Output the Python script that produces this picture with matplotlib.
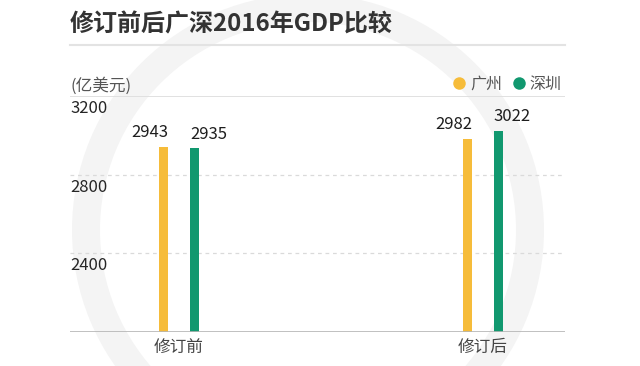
import matplotlib.pyplot as plt
from matplotlib.patches import Wedge
from matplotlib.lines import Line2D
import matplotlib.transforms as mtransforms

plt.rcParams['font.family'] = ['Noto Sans CJK SC', 'DejaVu Sans']

categories = ['修订前', '修订后']
cities = ['广州', '深圳']
guangzhou = [2943, 2982]
shenzhen = [2935, 3022]
yticks = [2400, 2800, 3200]

colors = ['#F6BC3A', '#11986F']

fig = plt.figure(figsize=(6.4, 3.66), dpi=100)
fig.patch.set_facecolor('white')

# faint watermark ring in the background
ring = Wedge((308, 366 - 230), 236, 0, 360, width=28, transform=None,
             facecolor='#f4f4f4', edgecolor='none', zorder=-10)
fig.patches.append(ring)

ax = fig.add_axes([70 / 640, 1 - 332 / 366, 495 / 640, 236 / 366])
ax.set_facecolor('none')

x = [0, 1]
w = 0.03
off = 0.051
ax.bar([i - off for i in x], guangzhou, width=w, color=colors[0], zorder=3)
ax.bar([i + off for i in x], shenzhen, width=w, color=colors[1], zorder=3)

for i in x:
    ax.annotate(str(guangzhou[i]), (i - off + w / 2, guangzhou[i]), xytext=(0, 4),
                textcoords='offset points', ha='right', va='bottom',
                fontsize=12, color='#1e1e1e')
    ax.annotate(str(shenzhen[i]), (i + off - w / 2, shenzhen[i]), xytext=(0, 4),
                textcoords='offset points', ha='left', va='bottom',
                fontsize=12, color='#1e1e1e')

ax.set_ylim(2000, 3200)
ax.set_xlim(-0.3586, 1.27)

for s in ax.spines.values():
    s.set_visible(False)
ax.axhline(2000, color='#b5b5b5', lw=1.2, zorder=4)
ax.axhline(3200, color='#dcdcdc', lw=1.2, zorder=1)
for t in yticks[:-1]:
    ax.axhline(t, color='#dadada', lw=0.9, ls=(0, (3, 3)), zorder=1)

ax.set_xticks([])
ax.set_yticks([])
trans = mtransforms.blended_transform_factory(ax.transAxes, ax.transData)
for t in yticks:
    ax.annotate(str(t), (0, t), xycoords=trans, xytext=(0, -3),
                textcoords='offset points', ha='left', va='top',
                fontsize=12, color='#262626')

for i, c in zip(x, categories):
    ax.annotate(c, (i, 2000), xytext=(0, -5), textcoords='offset points',
                ha='center', va='top', fontsize=12, color='#444444')

# title and divider
fig.text(70 / 640, 1 - 24 / 366, '修订前后广深2016年GDP比较', fontsize=17.3,
         fontweight='bold', color='#333333', ha='left', va='center')
fig.add_artist(Line2D([70 / 640, 565 / 640], [1 - 45 / 366, 1 - 45 / 366],
                      color='#e3e3e3', lw=1.5))

fig.text(70 / 640, 1 - 86 / 366, '(亿美元)', fontsize=12, color='#555555',
         ha='left', va='center')

handles = [Line2D([], [], marker='o', ls='none', markersize=9,
                  markerfacecolor=c, markeredgecolor='none') for c in colors]
leg = ax.legend(handles, cities, ncol=2, loc='lower right',
                bbox_to_anchor=(1.0, 1.0), frameon=False, borderaxespad=0.2,
                borderpad=0, handlelength=0.8, handletextpad=0.3,
                columnspacing=0.6, fontsize=11.5)
for txt in leg.get_texts():
    txt.set_color('#555555')

fig.savefig('out.png', dpi=100)
